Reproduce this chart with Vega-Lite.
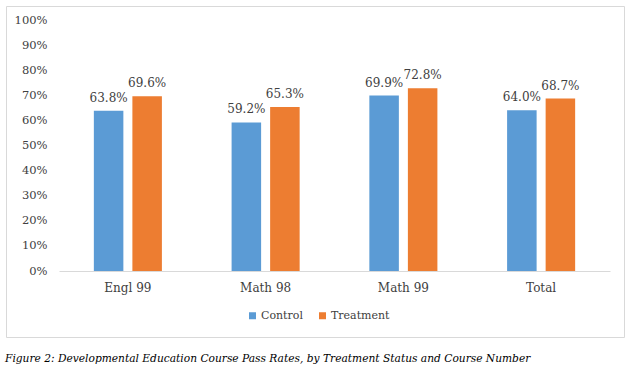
{
  "$schema": "https://vega.github.io/schema/vega-lite/v6.json",
  "width": 618,
  "height": 331,
  "autosize": {"type": "none"},
  "padding": {"left": 6, "top": 6, "right": 11, "bottom": 42},
  "background": "white",
  "config": {
    "view": {"stroke": "#D9D9D9", "strokeWidth": 1},
    "font": "DejaVu Serif"
  },
  "title": {
    "text": "Figure 2: Developmental Education Course Pass Rates, by Treatment Status and Course Number",
    "orient": "bottom",
    "anchor": "start",
    "frame": "group",
    "font": "DejaVu Serif",
    "fontStyle": "italic",
    "fontWeight": "normal",
    "fontSize": 10.65,
    "color": "#000000",
    "baseline": "alphabetic",
    "offset": 25,
    "dx": -1
  },
  "data": {
    "values": [
      {"course": "Engl 99", "group": "Control", "value": 0.638},
      {"course": "Engl 99", "group": "Treatment", "value": 0.696},
      {"course": "Math 98", "group": "Control", "value": 0.592},
      {"course": "Math 98", "group": "Treatment", "value": 0.653},
      {"course": "Math 99", "group": "Control", "value": 0.699},
      {"course": "Math 99", "group": "Treatment", "value": 0.728},
      {"course": "Total", "group": "Control", "value": 0.640},
      {"course": "Total", "group": "Treatment", "value": 0.687}
    ]
  },
  "encoding": {
    "x": {
      "field": "course",
      "type": "nominal",
      "sort": ["Engl 99", "Math 98", "Math 99", "Total"],
      "scale": {"range": [53, 604], "paddingInner": 0.506, "paddingOuter": 0.253},
      "axis": {
        "title": null,
        "orient": "bottom",
        "offset": -66,
        "labelAngle": 0,
        "ticks": false,
        "domainColor": "#D9D9D9",
        "domainWidth": 1,
        "labelFont": "DejaVu Serif",
        "labelFontSize": 12,
        "labelColor": "#404040",
        "labelPadding": 11
      }
    },
    "xOffset": {
      "field": "group",
      "type": "nominal",
      "scale": {"paddingInner": 0.234, "paddingOuter": 0}
    },
    "y": {
      "field": "value",
      "type": "quantitative",
      "scale": {"domain": [0, 1], "range": [265, 14], "nice": false, "zero": true},
      "axis": {
        "title": null,
        "orient": "left",
        "offset": -53,
        "values": [0, 0.1, 0.2, 0.3, 0.4, 0.5, 0.6, 0.7, 0.8, 0.9, 1],
        "format": ".0%",
        "domain": false,
        "ticks": false,
        "grid": false,
        "labelFont": "DejaVu Serif",
        "labelFontSize": 11.5,
        "labelColor": "#404040",
        "labelPadding": 12
      }
    }
  },
  "layer": [
    {
      "mark": {"type": "bar"},
      "encoding": {
        "color": {
          "field": "group",
          "type": "nominal",
          "scale": {"domain": ["Control", "Treatment"], "range": ["#5B9BD5", "#ED7D31"]},
          "legend": {
            "title": null,
            "orient": "none",
            "direction": "horizontal",
            "legendX": 241,
            "legendY": 304,
            "symbolType": "square",
            "symbolSize": 49,
            "symbolStrokeWidth": 0,
            "labelFont": "DejaVu Serif",
            "labelFontSize": 11,
            "labelColor": "#404040",
            "labelOffset": 3,
            "columnPadding": 14
          }
        }
      }
    },
    {
      "mark": {"type": "text", "baseline": "alphabetic", "dy": -9, "fontSize": 12, "color": "#404040", "font": "DejaVu Serif"},
      "encoding": {
        "text": {"field": "value", "type": "quantitative", "format": ".1%"}
      }
    }
  ]
}
